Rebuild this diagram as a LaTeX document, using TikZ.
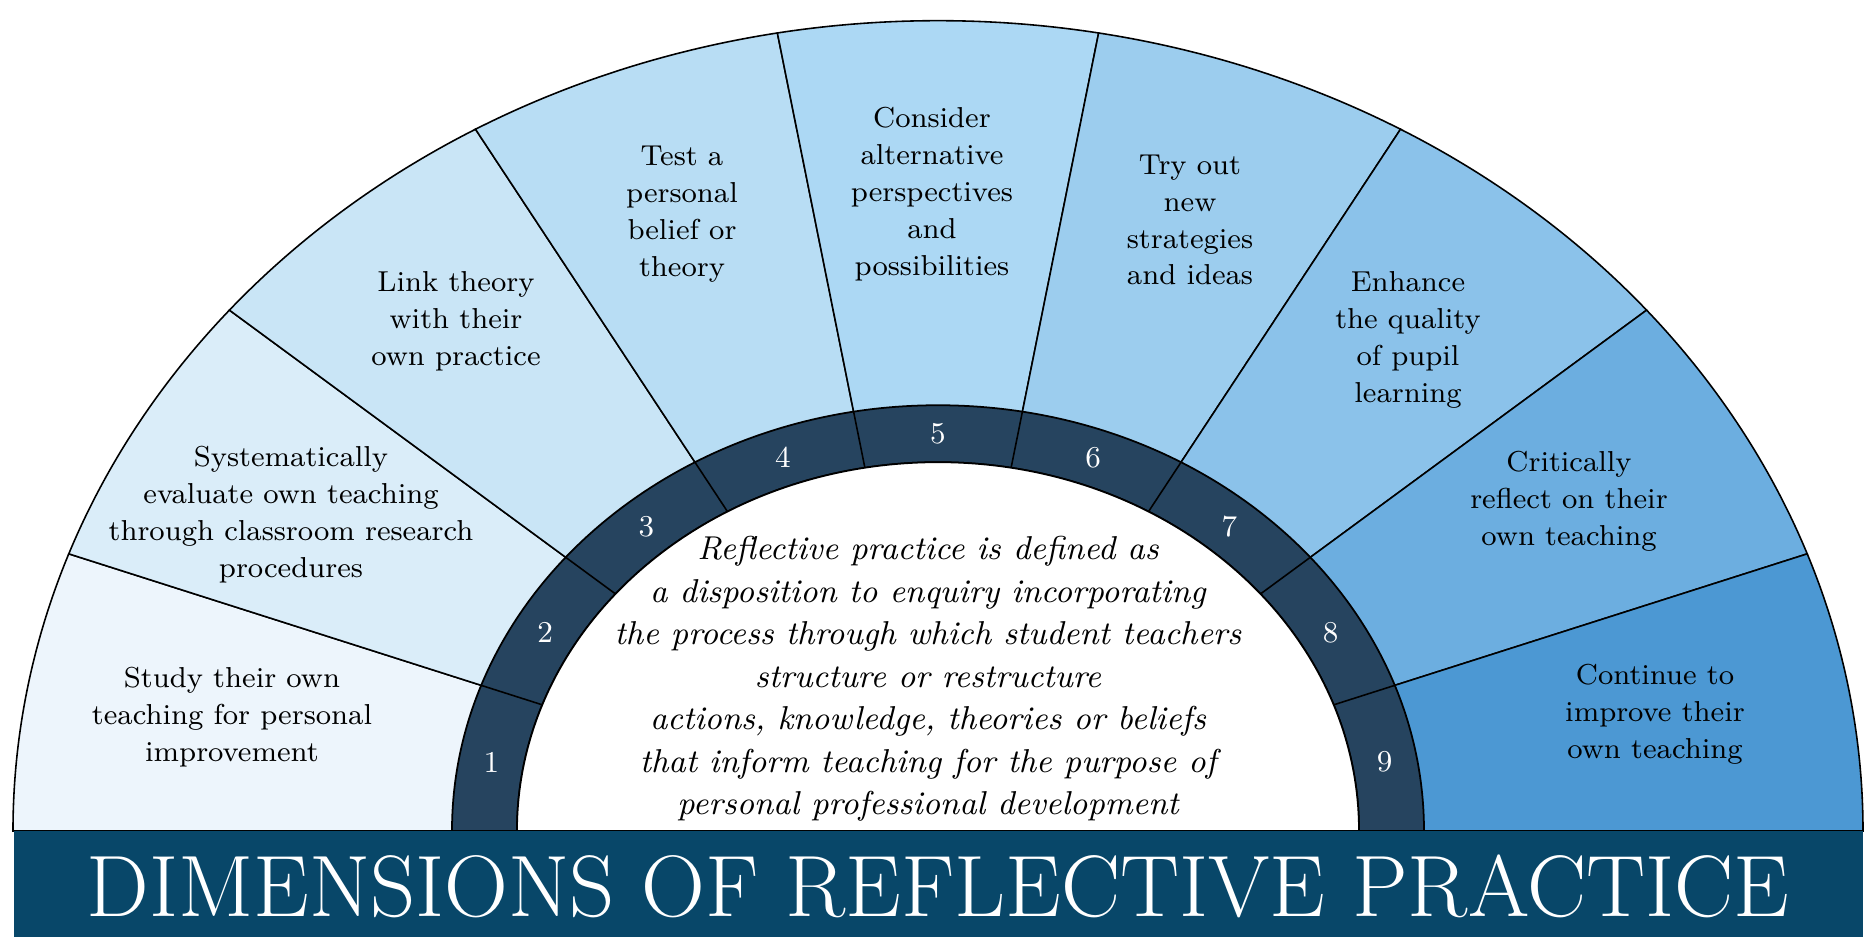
\documentclass[tikz,border=0pt]{standalone}
\usepackage{fontspec}
\usepackage{graphicx}
\usetikzlibrary{positioning}

\definecolor{seg1}{HTML}{EDF5FC}
\definecolor{seg2}{HTML}{DAEDF9}
\definecolor{seg3}{HTML}{C9E5F6}
\definecolor{seg4}{HTML}{B8DDF4}
\definecolor{seg5}{HTML}{ACD8F4}
\definecolor{seg6}{HTML}{9CCDEE}
\definecolor{seg7}{HTML}{8BC2EA}
\definecolor{seg8}{HTML}{6CAEE0}
\definecolor{seg9}{HTML}{4C98D3}
\definecolor{ringblue}{HTML}{26445F}
\definecolor{bannerblue}{HTML}{084769}

\begin{document}
\begin{tikzpicture}[
    x=0.01cm, y=0.01cm,
    sector/.style={draw=black, line width=0.45pt},
    ring/.style={fill=ringblue, draw=black, line width=0.5pt},
    dimlabel/.style={align=center, inner sep=0pt, font=\fontsize{8.2}{10.5}\selectfont},
    num/.style={text=white, inner sep=0pt, font=\fontsize{8.6}{10}\selectfont},
    deftext/.style={align=center, inner sep=0pt, font=\fontsize{9.4}{12.1}\selectfont\itshape},
    title/.style={text=white, inner sep=0pt, font=\fontsize{24.8}{26}\selectfont},
  ]
    \useasboundingbox (-938,-106) rectangle (929,831);

    % Fan, ring and numbers
    \begin{scope}[yscale=0.876]
      \foreach \i/\c in {1/seg1,2/seg2,3/seg3,4/seg4,5/seg5,6/seg6,7/seg7,8/seg8,9/seg9}
        \filldraw[sector, fill=\c] (0,0) -- ({200-20*\i}:925)
          arc[start angle={200-20*\i}, end angle={180-20*\i}, radius=925] -- cycle;
      \filldraw[ring] (-486,0) arc[start angle=180, end angle=0, radius=486]
        -- (421,0) arc[start angle=0, end angle=180, radius=421] -- cycle;
      \foreach \a in {20,40,...,160}
        \draw[sector] (\a:421) -- (\a:486);
      \filldraw[fill=white, draw=black, line width=0.5pt] (-421,0)
        arc[start angle=180, end angle=0, radius=421] -- cycle;
      \foreach \i in {1,...,9}
        \node[num] (n\i) at ({190-20*\i}:453.5) {\i};
    \end{scope}

    % Banner
    \fill[bannerblue] (-924,-110) rectangle (925,0);
    \node[title, anchor=base] (title) at (0,-86)
      {\scalebox{1.015}[1]{DIMENSIONS OF REFLECTIVE PRACTICE}};

    % Dimensions
    \node[dimlabel] (s1) at (-706,114) {Study their own\\teaching for personal\\improvement};
    \node[dimlabel] (s2) at (-647,316) {Systematically\\evaluate own teaching\\through classroom research\\procedures};
    \node[dimlabel] (s3) at (-482,510) {Link theory\\with their\\own practice};
    \node[dimlabel] (s4) at (-256,617) {Test a\\personal\\belief or\\theory};
    \node[dimlabel] (s5) at (-6,637) {Consider\\alternative\\perspectives\\and\\possibilities};
    \node[dimlabel] (s6) at (252,611) {Try out\\new\\strategies\\and ideas};
    \node[dimlabel] (s7) at (470,491) {Enhance\\the quality\\of pupil\\learning};
    \node[dimlabel] (s8) at (631,330) {Critically\\reflect on their\\own teaching};
    \node[dimlabel] (s9) at (717,117) {Continue to\\improve their\\own teaching};

    % Definition in the middle
    \node[deftext] (def) at (-10,152) {Reflective practice is defined as\\
      a disposition to enquiry incorporating\\
      the process through which student teachers\\
      structure or restructure\\
      actions, knowledge, theories or beliefs\\
      that inform teaching for the purpose of\\
      personal professional development};
\end{tikzpicture}
\end{document}
